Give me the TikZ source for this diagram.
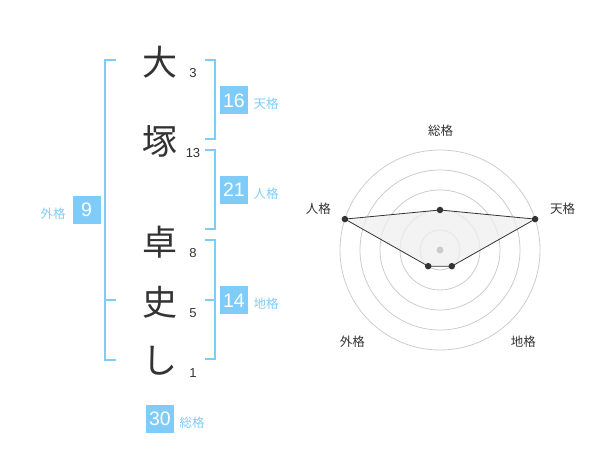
\documentclass[tikz,border=0pt]{standalone}
\usepackage{fontspec}
\setmainfont{Liberation Sans}
\newfontfamily\jp{Noto Sans CJK JP}
\definecolor{kblue}{HTML}{80CCF8}
\definecolor{kdark}{HTML}{333333}
\definecolor{kgrid}{HTML}{CCCCCC}
\definecolor{kfill}{HTML}{EFEFEF}
\begin{document}
\begin{tikzpicture}[x=1pt,y=-1pt,
  kanji/.style={text=kdark,font=\jp\fontsize{35}{35}\selectfont,inner sep=0pt},
  stroke/.style={text=kdark,font=\fontsize{13}{13}\selectfont,inner sep=0pt},
  valbox/.style={fill=kblue,text=white,minimum width=28pt,minimum height=28pt,inner sep=0pt,font=\fontsize{19.5}{19.5}\selectfont},
  kaku/.style={text=kblue,font=\jp\fontsize{12.5}{12.5}\selectfont,inner sep=0pt},
  brk/.style={draw=kblue,line width=2pt},
  axlab/.style={text=kdark,font=\jp\fontsize{12.5}{12.5}\selectfont,inner sep=0pt},
  ring/.style={draw=kgrid,line width=0.8pt},
  pt/.style={fill=kdark,circle,inner sep=0pt,minimum size=6.5pt}]
\useasboundingbox (0,0) rectangle (600,470);
% characters
\node[kanji] (c1) at (160,62) {大};
\node[kanji] (c2) at (160,141) {塚};
\node[kanji] (c3) at (160,242) {卓};
\node[kanji] (c4) at (160,302) {史};
\node[kanji] (c5) at (160,361) {し};
% stroke counts
\node[stroke] (s1) at (193,73) {3};
\node[stroke] (s2) at (193,153) {13};
\node[stroke] (s3) at (193,253) {8};
\node[stroke] (s4) at (193,313) {5};
\node[stroke] (s5) at (193,373) {1};
% brackets
\draw[brk] (116,60) -- (105,60) -- (105,360) -- (116,360);
\draw[brk] (105,300) -- (116,300);
\draw[brk] (205,60) -- (215,60) -- (215,139.5) -- (205,139.5);
\draw[brk] (205,150) -- (215,150) -- (215,229.5) -- (205,229.5);
\draw[brk] (205,240) -- (215,240) -- (215,359.5) -- (205,359.5);
\draw[brk] (205,300) -- (215,300);
% value boxes
\node[valbox] (b16) at (234,100.5) {16};
\node[kaku] (l16) at (266,104) {天格};
\node[valbox] (b21) at (234,190) {21};
\node[kaku] (l21) at (266,194) {人格};
\node[valbox] (b14) at (234,300.5) {14};
\node[kaku] (l14) at (266,304) {地格};
\node[valbox] (b9) at (86.5,210) {9};
\node[kaku] (l9) at (53,214) {外格};
\node[valbox] (b30) at (160,419) {30};
\node[kaku] (l30) at (192,422.5) {総格};
% radar
\foreach \r in {20,40,60,80,100} \draw[ring] (440,250) circle (\r);
\coordinate (pS) at (440,210);
\coordinate (pT) at (535.1,219.1);
\coordinate (pC) at (451.8,266.2);
\coordinate (pG) at (428.2,266.2);
\coordinate (pJ) at (344.9,219.1);
\filldraw[fill=kfill,fill opacity=0.75,draw=kdark,line width=0.8pt] (pS) -- (pT) -- (pC) -- (pG) -- (pJ) -- cycle;
\fill[kgrid] (440,250) circle (3.5);
\foreach \p in {pS,pT,pC,pG,pJ} \node[pt] at (\p) {};
\node[axlab] (aS) at (440.7,130.7) {総格};
\node[axlab] (aT) at (562.7,209) {天格};
\node[axlab] (aJ) at (318.3,209) {人格};
\node[axlab] (aG) at (352.3,342) {外格};
\node[axlab] (aC) at (523.3,342) {地格};
\end{tikzpicture}
\end{document}
